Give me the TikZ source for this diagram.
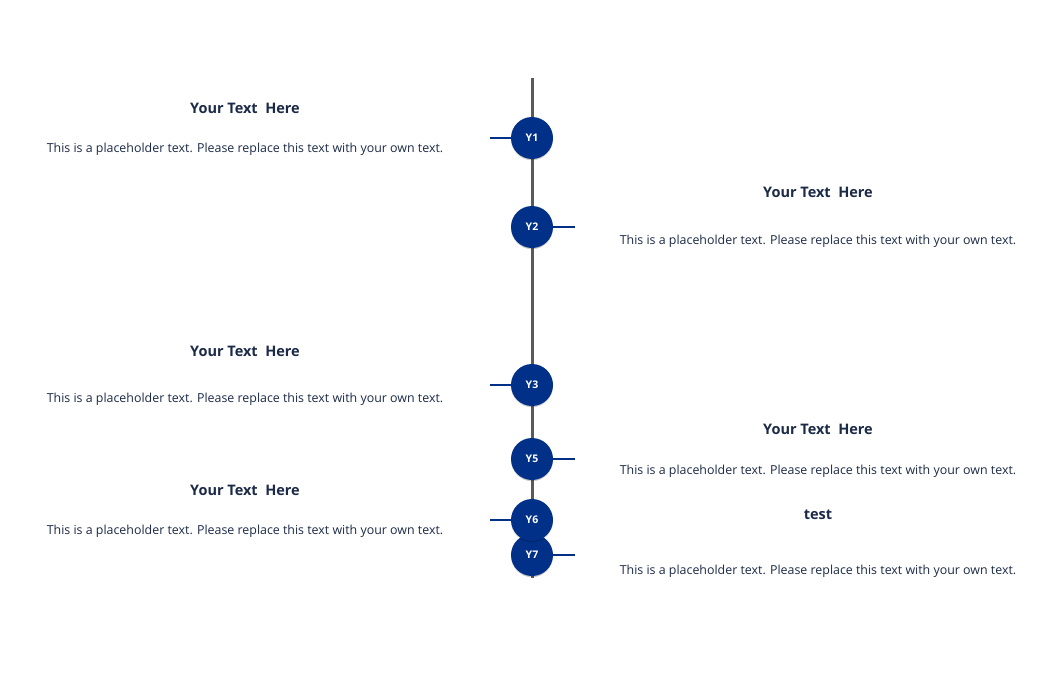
\documentclass[tikz,border=0pt]{standalone}
\usepackage{fontspec}
\setmainfont{Open Sans}
\usetikzlibrary{shadows}
\definecolor{navy}{HTML}{003087}
\definecolor{ink}{HTML}{1B2A47}
\definecolor{spine}{HTML}{5A5A5A}
\tikzset{
  yr/.style={circle, fill=navy, minimum size=42pt, inner sep=0pt, text=white, font=\fontsize{10.5}{11}\selectfont\bfseries,
    drop shadow={opacity=0.2, shadow xshift=0pt, shadow yshift=-1.2pt, fill=black}},
  tick/.style={draw=navy, line width=2.5pt},
  ttl/.style={text=ink, font=\fontsize{14.5}{16}\selectfont\bfseries, anchor=center},
  body/.style={text=ink, font=\fontsize{12.4}{14}\selectfont, anchor=center},
}
\begin{document}
\begin{tikzpicture}[x=1pt,y=-1pt]
\useasboundingbox (0,0) rectangle (1063,688);
\coordinate (top) at (532,78);
\coordinate (bot) at (532,578);
\draw[spine, line width=3pt] (top) -- (bot);
\node[yr] (y1) at (532,138) {Y1};
\node[yr] (y2) at (532,227) {Y2};
\node[yr] (y3) at (532,385) {Y3};
\node[yr] (y5) at (532,459) {Y5};
\node[yr] (y7) at (532,555) {Y7};
\node[yr] (y6) at (532,520) {Y6};
\coordinate (t1) at (490,138);
\coordinate (t2) at (575,227);
\coordinate (t3) at (490,385);
\coordinate (t5) at (575,459);
\coordinate (t6) at (490,520);
\coordinate (t7) at (575,555);
\draw[tick] (t1) -- (y1.west);
\draw[tick] (y2.east) -- (t2);
\draw[tick] (t3) -- (y3.west);
\draw[tick] (y5.east) -- (t5);
\draw[tick] (t6) -- (y6.west);
\draw[tick] (y7.east) -- (t7);
% texts
\node[ttl] (h1) at (245,108) {Your Text\ \ Here};
\node[body] (b1) at (245,149) {This is a placeholder text. Please replace this text with your own text.};
\node[ttl] (h2) at (818,192) {Your Text\ \ Here};
\node[body] (b2) at (818,241) {This is a placeholder text. Please replace this text with your own text.};
\node[ttl] (h3) at (245,351) {Your Text\ \ Here};
\node[body] (b3) at (245,399) {This is a placeholder text. Please replace this text with your own text.};
\node[ttl] (h5) at (818,429) {Your Text\ \ Here};
\node[body] (b5) at (818,471) {This is a placeholder text. Please replace this text with your own text.};
\node[ttl] (h6) at (245,490) {Your Text\ \ Here};
\node[body] (b6) at (245,531) {This is a placeholder text. Please replace this text with your own text.};
\node[ttl] (h7) at (818,515) {test};
\node[body] (b7) at (818,571) {This is a placeholder text. Please replace this text with your own text.};
\end{tikzpicture}
\end{document}
